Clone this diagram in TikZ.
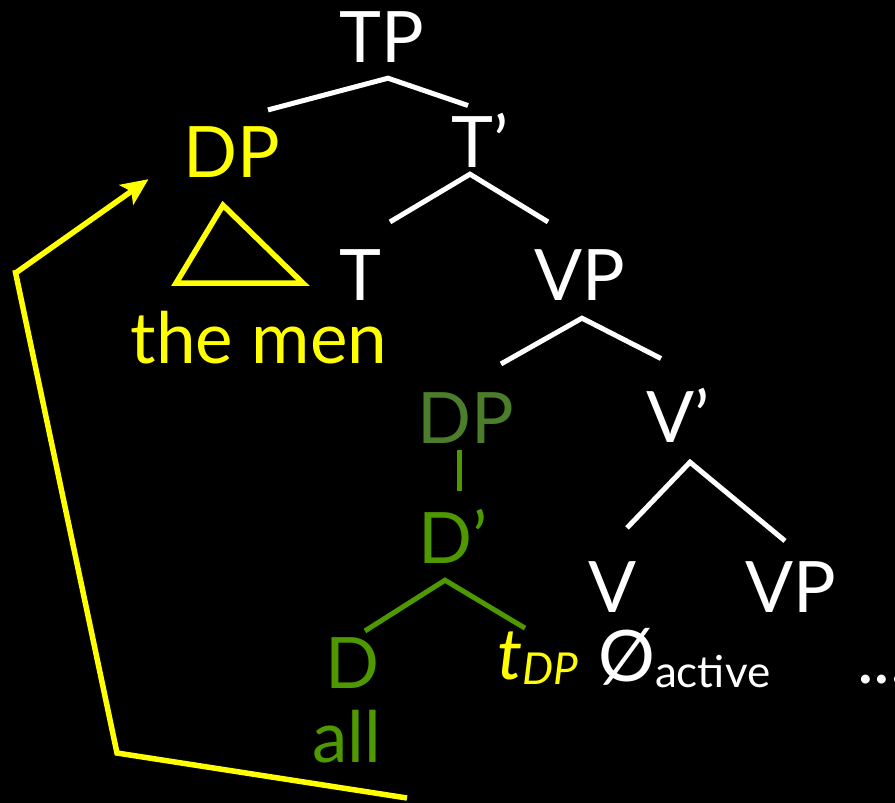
\documentclass[tikz,border=0pt]{standalone}
\usepackage{fontspec}
\setmainfont{Lato}
\usetikzlibrary{calc}
\usetikzlibrary{arrows.meta}

\begin{document}
\begin{tikzpicture}[x=1pt, y=-1pt,
    cat/.style={inner sep=0pt, anchor=base, text=white, font=\fontsize{71}{80}\selectfont},
    branch/.style={line width=5pt, white, miter limit=20},
    move/.style={line width=5.5pt, moveyellow}]
    % 定义颜色
    \definecolor{moveyellow}{RGB}{255, 255, 0}
    \definecolor{dpgreen}{RGB}{76, 125, 42}
    \definecolor{dgreen}{RGB}{78, 152, 0}
    \newcommand{\subtxt}[2]{\raisebox{#1}{\fontsize{44}{50}\selectfont #2}}

    % 背景 (Background)
    \fill[black] (0, 0) rectangle (895, 803);
    \clip (0, 0) rectangle (895, 803);

    % 树的节点 (Nodes)
    \node[cat] (TP) at (382, 62) {TP};
    \node[cat, text=moveyellow] (DPtop) at (232, 177) {DP};
    \node[cat] (Tbar) at (480, 167) {T’};
    \node[cat] (T) at (360, 300) {T};
    \node[cat] (VPa) at (580, 300) {VP};
    \node[cat, text=moveyellow] (men) at (259, 363) {the men};
    \node[cat, text=dpgreen] (DPlow) at (466, 443) {DP};
    \node[cat] (Vbar) at (678, 442) {V’};
    \node[cat, text=dgreen] (Dbar) at (453, 563) {D’};
    \node[cat] (V) at (613, 612) {V};
    \node[cat] (VPb) at (791, 612) {VP};
    \node[cat, text=dgreen] (D) at (352, 688) {D};
    \node[cat, text=dgreen] (all) at (347, 762) {all};
    \node[cat, anchor=base west, text=moveyellow] (trace) at (497, 679) {\itshape t\subtxt{-5pt}{DP}};
    \node[cat, anchor=base west] (null) at (598, 681) {Ø\subtxt{-6pt}{active}};
    \node[cat, anchor=base west] (dots) at (857, 683) {...};

    % 树枝 (Branches)
    \draw[branch] ($(DPtop.north)+(36,-16)$) -- ($(TP.south)+(6,16)$) -- ($(Tbar.north)+(-12,-7)$);
    \draw[branch] ($(T.north)+(30,-27)$) -- ($(Tbar.south)+(-10,7)$) -- ($(VPa.north)+(-32,-27)$);
    \draw[branch] ($(DPlow.north)+(35,-28)$) -- ($(VPa.south)+(2,18)$) -- ($(Vbar.north)+(-17,-29)$);
    \draw[branch] ($(V.north)+(14,-33)$) -- ($(Vbar.south)+(12,20)$) -- ($(VPb.north)+(-6,-20)$);
    \draw[branch, dgreen] ($(DPlow.south)+(-7,7)$) -- ($(Dbar.north)+(6,-18)$);
    \draw[branch, dgreen] ($(D.north)+(13,-6)$) -- ($(Dbar.south)+(-8,17)$) -- ($(trace.north west)+(28,-3)$);

    % 三角形 (Triangle)
    \draw[move] ($(DPtop.south)+(-9,28)$) -- ($(DPtop.south)+(71,106)$) -- ($(DPtop.south)+(-56,106)$) -- cycle;

    % 移动箭头 (Movement)
    \coordinate (moveStart) at (407, 798);
    \coordinate (moveLow) at (117, 753);
    \coordinate (moveHigh) at (15, 270);
    \draw[move] (moveStart) -- (moveLow) -- (moveHigh);
    \draw[move, -{Stealth[length=27pt, width=24pt, inset=6pt]}]
        ($(moveHigh)+(2,2)$) -- ($(DPtop.south west)+(-35,2)$);
\end{tikzpicture}
\end{document}
